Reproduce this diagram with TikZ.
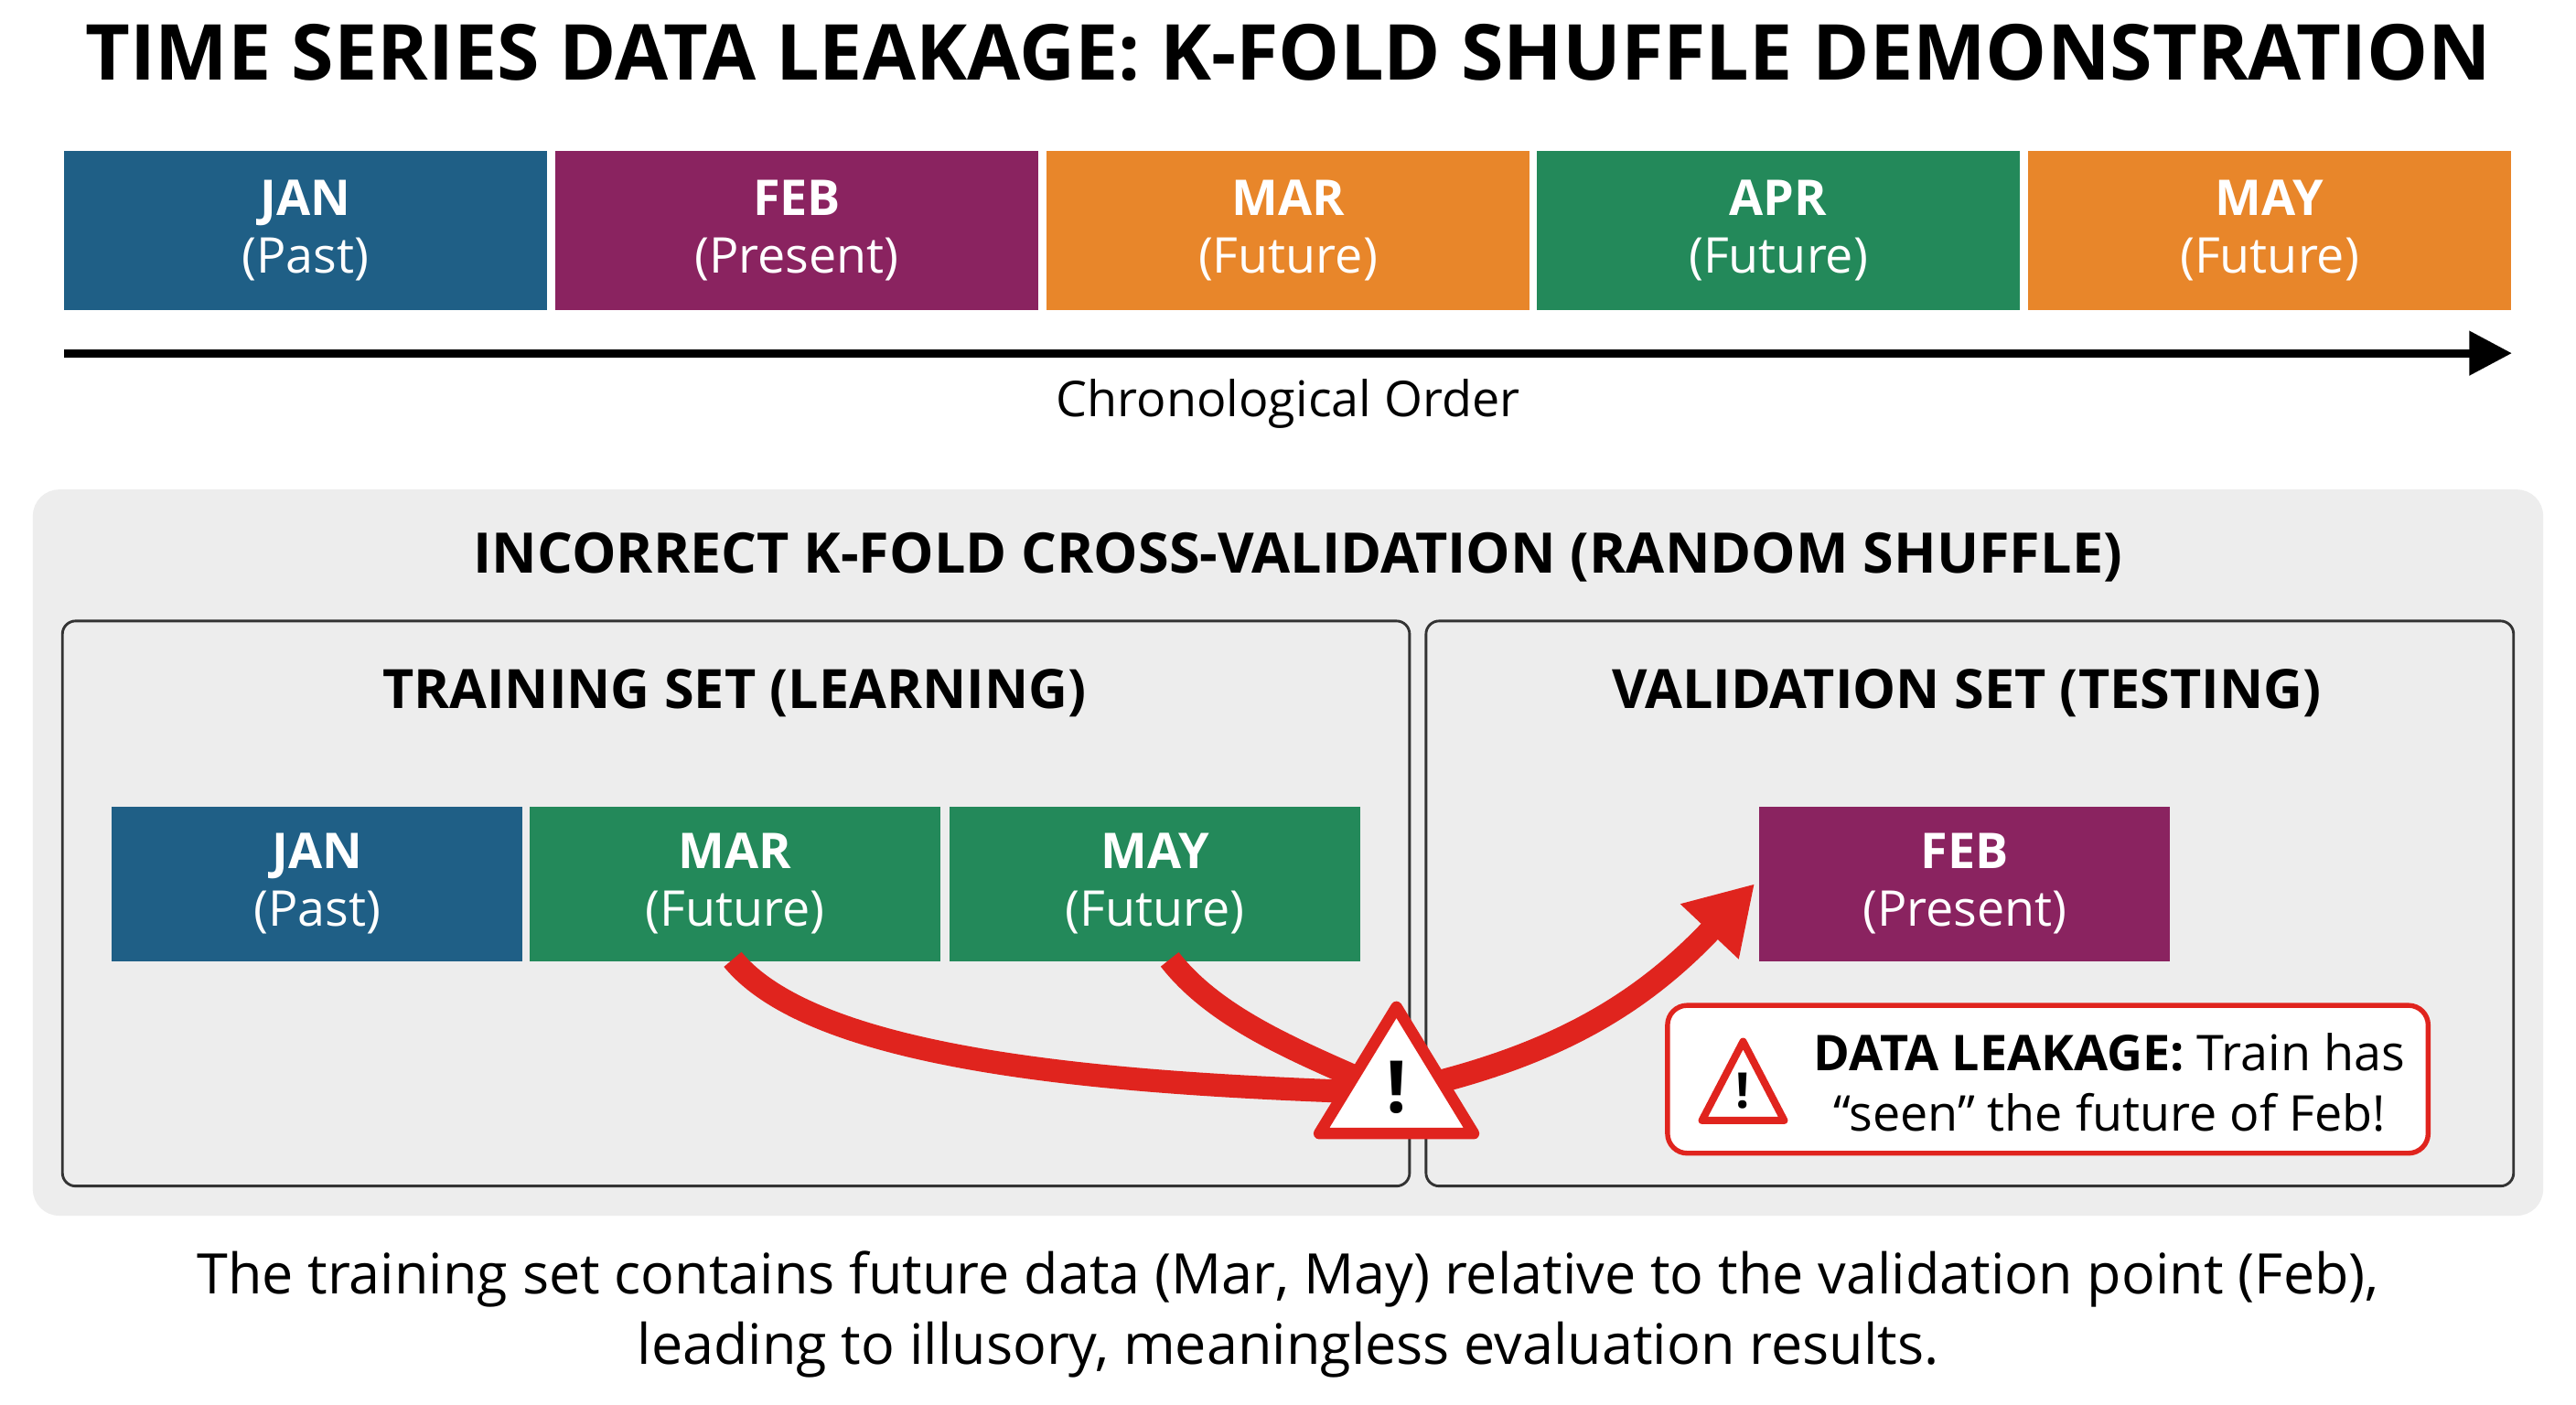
\documentclass[tikz,border=0pt]{standalone}
\usepackage{fontspec}
\setmainfont{Open Sans}
\usetikzlibrary{arrows.meta}
\definecolor{cblue}{HTML}{1F5F86}
\definecolor{cpurple}{HTML}{8A2360}
\definecolor{corange}{HTML}{E8862A}
\definecolor{cgreen}{HTML}{23895A}
\definecolor{cred}{HTML}{E0241E}
\definecolor{cpanel}{HTML}{EDEDED}
\tikzset{
  month/.style={minimum width=294pt,minimum height=97pt,inner sep=0pt,text=white,font=\fontsize{30}{35}\selectfont,align=center},
  imonth/.style={minimum width=250pt,minimum height=94pt,inner sep=0pt,text=white,font=\fontsize{30}{35}\selectfont,align=center},
  setbox/.style={draw=black!80,line width=1.6pt,rounded corners=8pt,fill=cpanel},
  leak/.style={draw=cred,line width=14pt},
  warn/.style={draw=cred,fill=white,line width=7pt,line join=round},
}
\begin{document}
\begin{tikzpicture}[x=1pt,y=-1pt]
\useasboundingbox[fill=white] (0,0) rectangle (1568,855);
\node[font=\fontsize{47}{50}\selectfont\bfseries] (title) at (784,32) {TIME SERIES DATA LEAKAGE: K-FOLD SHUFFLE DEMONSTRATION};
\node[month,fill=cblue] (jan) at (186,140.5) {\textbf{JAN}\\(Past)};
\node[month,fill=cpurple] (feb) at (485,140.5) {\textbf{FEB}\\(Present)};
\node[month,fill=corange] (mar) at (784,140.5) {\textbf{MAR}\\(Future)};
\node[month,fill=cgreen] (apr) at (1082.5,140.5) {\textbf{APR}\\(Future)};
\node[month,fill=corange] (may) at (1381.5,140.5) {\textbf{MAY}\\(Future)};
\coordinate (ts) at (39,215); \coordinate (te) at (1529,215);
\draw[line width=5pt,-{Triangle[length=26pt,width=26pt]}] (ts) -- (te);
\node[font=\fontsize{30}{34}\selectfont] (chrono) at (784,246) {Chronological Order};
\node[draw=none,fill=cpanel,rounded corners=16pt,minimum width=1528pt,minimum height=442pt] (panel) at (784,519) {};
\node[font=\fontsize{34}{38}\selectfont\bfseries] (ptitle) at (790,339) {INCORRECT K-FOLD CROSS-VALIDATION (RANDOM SHUFFLE)};
\node[setbox,minimum width=820pt,minimum height=344pt] (train) at (448,550) {};
\node[setbox,minimum width=662pt,minimum height=344pt] (val) at (1199,550) {};
\node[font=\fontsize{33}{37}\selectfont\bfseries] (ttitle) at (447,422) {TRAINING SET (LEARNING)};
\node[font=\fontsize{33}{37}\selectfont\bfseries] (vtitle) at (1197,422) {VALIDATION SET (TESTING)};
\node[imonth,fill=cblue] (tjan) at (193,538) {\textbf{JAN}\\(Past)};
\node[imonth,fill=cgreen] (tmar) at (447.5,538) {\textbf{MAR}\\(Future)};
\node[imonth,fill=cgreen] (tmay) at (703,538) {\textbf{MAY}\\(Future)};
\node[imonth,fill=cpurple] (vfeb) at (1196,538) {\textbf{FEB}\\(Present)};
\coordinate (w) at (850,655);
\draw[leak] (446,584) .. controls (500,650) and (700,660) .. (835,665);
\draw[leak] (712,584) .. controls (740,620) and (790,640) .. (835,660);
\draw[leak,-{Triangle[length=40pt,width=46pt]}] (870,660) .. controls (950,640) and (1000,610) .. (1068,538);
\draw[warn] (850,613) -- (897,690) -- (803,690) -- cycle;
\node[font=\fontsize{44}{44}\selectfont\bfseries] (wex) at (850,662) {!};
\node[draw=cred,line width=3pt,fill=white,rounded corners=12pt,minimum width=463pt,minimum height=90pt] (lbox) at (1246.5,657) {};
\draw[draw=cred,fill=white,line width=4.5pt,line join=round] (1061,634) -- (1086,682) -- (1036,682) -- cycle;
\node[font=\fontsize{30}{30}\selectfont\bfseries] (lex) at (1061,664) {!};
\node[font=\fontsize{30}{37}\selectfont,align=center] (ltext) at (1284,659) {\textbf{DATA LEAKAGE:} Train has\\“seen” the future of Feb!};
\node[font=\fontsize{34}{43}\selectfont,align=center] (cap) at (784,800) {The training set contains future data (Mar, May) relative to the validation point (Feb),\\leading to illusory, meaningless evaluation results.};
\end{tikzpicture}
\end{document}
